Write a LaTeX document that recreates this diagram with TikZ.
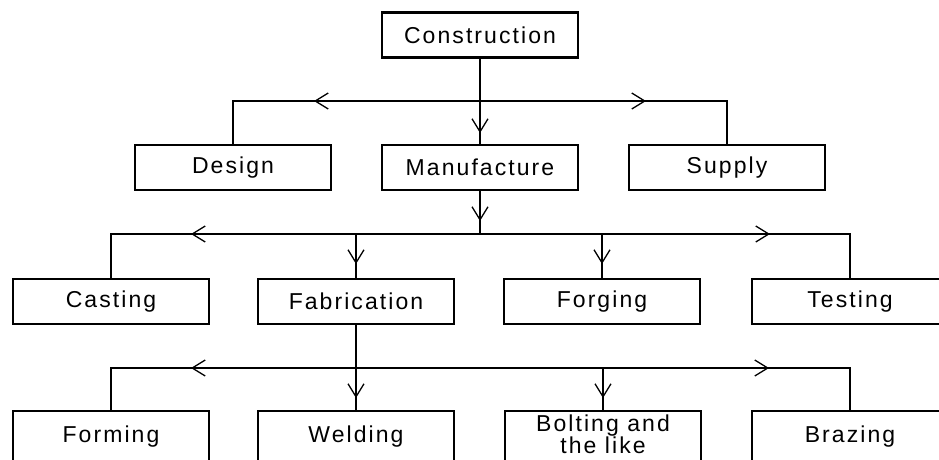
\documentclass[tikz,border=0pt]{standalone}
\usepackage{fontspec}
\setmainfont{Liberation Sans}
\newfontfamily\lblfont[LetterSpace=9]{Liberation Sans}
\usetikzlibrary{arrows.meta}
\begin{document}
\begin{tikzpicture}[x=1pt,y=-1pt,
  lbl/.style={inner sep=0pt, align=center, font=\lblfont\fontsize{23}{22}\selectfont},
  box/.style={lbl, draw, line width=2.6pt, minimum width=196pt, minimum height=45pt},
  lowbox/.style={box, minimum height=52pt},
  conn/.style={line width=1.3pt},
  barb/.style={conn, -{Straight Barb[length=13pt,width=16pt,line width=1.3pt]}}]
\clip (0,0) rectangle (939,459);
\fill[white] (0,0) rectangle (939,459);
% nodes
\node[box] (con) at (480,35) {Construction};
\node[box] (des) at (233,167.5) {Design};
\node[box] (man) at (480,167.5) {Manufacture};
\node[box] (sup) at (727,167.5) {Supply};
\node[box] (cas) at (111,301.5) {Casting};
\node[box] (fab) at (356,301.5) {Fabrication};
\node[box] (frg) at (602,301.5) {Forging};
\node[box] (tst) at (850,301.5) {Testing};
\node[lowbox] (frm) at (111,437) {Forming};
\node[lowbox] (wel) at (356,437) {Welding};
\node[lowbox] (bol) at (603,437) {};
\node[lbl] (boltxt) at (603,434.5) {Bolting and\\the like};
\node[lowbox] (brz) at (850,437) {Brazing};
% level 1
\coordinate (b1) at (480,101);
\coordinate (t1l) at (314,101);
\coordinate (t1r) at (646,101);
\coordinate (t1d) at (480,133);
\draw[conn] (con.south) -- (man.north);
\draw[conn] (des.north) -- (des.north |- b1) -- (sup.north |- b1) -- (sup.north);
\draw[barb] (b1) -- (t1l);
\draw[barb] (b1) -- (t1r);
\draw[barb] (b1) -- (t1d);
% level 2
\coordinate (b2) at (480,234);
\coordinate (t2l) at (191,234);
\coordinate (t2r) at (770,234);
\coordinate (t2m) at (480,221);
\coordinate (t2a) at (356,264);
\coordinate (t2b) at (602,264);
\draw[conn] (man.south) -- (b2);
\draw[barb] (man.south) -- (t2m);
\draw[conn] (cas.north) -- (cas.north |- b2) -- (tst.north |- b2) -- (tst.north);
\draw[conn] (fab.north |- b2) -- (fab.north);
\draw[conn] (frg.north |- b2) -- (frg.north);
\draw[barb] (b2) -- (t2l);
\draw[barb] (b2) -- (t2r);
\draw[barb] (fab.north |- b2) -- (t2a);
\draw[barb] (frg.north |- b2) -- (t2b);
% level 3
\coordinate (b3) at (356,368);
\coordinate (t3l) at (191,368);
\coordinate (t3r) at (769,368);
\coordinate (t3a) at (356,398);
\coordinate (t3b) at (603,398);
\draw[conn] (fab.south) -- (wel.north);
\draw[conn] (frm.north) -- (frm.north |- b3) -- (brz.north |- b3) -- (brz.north);
\draw[conn] (bol.north |- b3) -- (bol.north);
\draw[barb] (b3) -- (t3l);
\draw[barb] (b3) -- (t3r);
\draw[barb] (b3) -- (t3a);
\draw[barb] (bol.north |- b3) -- (t3b);
\end{tikzpicture}
\end{document}
